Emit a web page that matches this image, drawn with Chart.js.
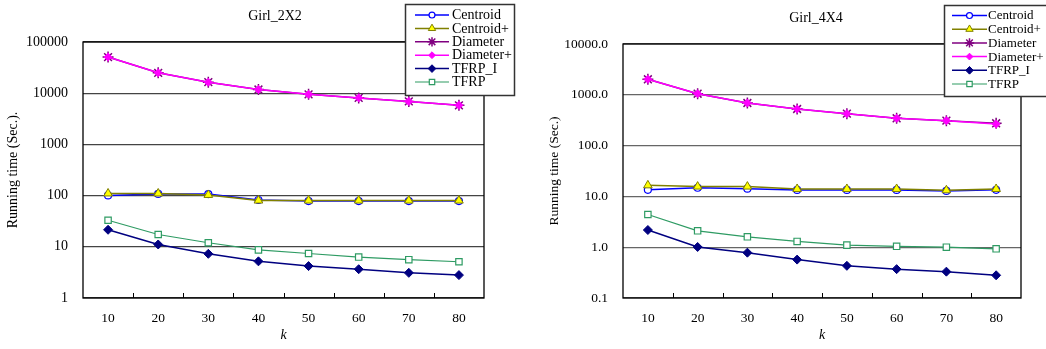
<!DOCTYPE html>
<html>
<head>
<meta charset="utf-8">
<script src="https://cdn.jsdelivr.net/npm/chart.js@4.4.1/dist/chart.umd.min.js"></script>
<style>
  body { margin: 0; background: #fff; }
  #wrap { position: relative; width: 1046px; height: 349px; overflow: hidden; }
  #left { position: absolute; left: 0; top: 0; }
  #right { position: absolute; left: 530px; top: 0; }
</style>
</head>
<body>
<div id="wrap">
  <canvas id="left" width="530" height="349"></canvas>
  <canvas id="right" width="516" height="349"></canvas>
</div>
<script>
// k values on the x axis
const categories = [10, 20, 30, 40, 50, 60, 70, 80];
const seriesNames = ['Centroid', 'Centroid+', 'Diameter', 'Diameter+', 'TFRP_I', 'TFRP'];

// Girl_2X2 running times (sec.)
const g2Centroid  = [101, 108, 107, 82, 78, 78, 78, 78];
const g2CentroidP = [110, 110, 103, 80, 80, 80, 80, 80];
const g2Diameter  = [50800, 25000, 16400, 11800, 9500, 8100, 6900, 5800];
const g2DiameterP = [50800, 25000, 16400, 11800, 9500, 8100, 6900, 5800];
const g2TfrpI     = [21.5, 11.1, 7.3, 5.2, 4.2, 3.65, 3.1, 2.8];
const g2Tfrp      = [33, 17.4, 12, 8.7, 7.4, 6.3, 5.6, 5.1];
const g2Ticks = [1, 10, 100, 1000, 10000, 100000];

// Girl_4X4 running times (sec.)
const g4Centroid  = [13.5, 14.8, 14.2, 13.4, 13.4, 13.4, 12.8, 13.5];
const g4CentroidP = [16.5, 15.6, 15.6, 14, 14, 14, 13.2, 14];
const g4Diameter  = [2020, 1050, 690, 525, 425, 345, 310, 275];
const g4DiameterP = [2020, 1050, 690, 525, 425, 345, 310, 265];
const g4TfrpI     = [2.18, 1.01, 0.78, 0.57, 0.43, 0.37, 0.33, 0.28];
const g4Tfrp      = [4.4, 2.1, 1.6, 1.3, 1.1, 1.04, 1.0, 0.93];
const g4Ticks = [0.1, 1, 10, 100, 1000, 10000];

const serif = "'Liberation Serif', 'Times New Roman', serif";

function makeDatasets(vals) {
    const styles = [
        { borderColor: '#0000ff', backgroundColor: '#ffffff', pointStyle: 'circle', pointRadius: 3.5, borderWidth: 1.5, pointBorderWidth: 1.2, order: 6 },
        { borderColor: '#808000', backgroundColor: '#ffff00', pointStyle: 'triangle', pointRadius: 5, borderWidth: 1.5, pointBorderWidth: 1, order: 5 },
        { borderColor: '#800080', backgroundColor: '#800080', pointStyle: 'star', pointRadius: 5.5, borderWidth: 1.5, pointBorderWidth: 1.5, order: 4 },
        { borderColor: '#ff00ff', backgroundColor: '#ff00ff', pointStyle: 'rectRot', pointRadius: 4, borderWidth: 1.5, pointBorderWidth: 1, order: 3 },
        { borderColor: '#000080', backgroundColor: '#000080', pointStyle: 'rectRot', pointRadius: 4.5, borderWidth: 1.5, pointBorderWidth: 1, order: 2 },
        { borderColor: '#2e9b63', backgroundColor: '#ffffff', pointStyle: 'rect', pointRadius: 4.5, borderWidth: 1.2, pointBorderWidth: 1.2, order: 1 }
    ];
    return vals.map(function (v, i) {
        const s = styles[i];
        return {
            label: seriesNames[i],
            data: v,
            borderColor: s.borderColor,
            backgroundColor: s.backgroundColor,
            pointBackgroundColor: s.backgroundColor,
            pointBorderColor: s.borderColor,
            pointStyle: s.pointStyle,
            pointRadius: s.pointRadius,
            pointBorderWidth: s.pointBorderWidth,
            borderWidth: s.borderWidth,
            order: s.order,
            tension: 0
        };
    });
}

// frame, inner x ticks, title and the boxed legend
const decorPlugin = {
    id: 'decor',
    afterDraw(chart, args, opts) {
        const ctx = chart.ctx;
        const a = chart.chartArea;
        const xs = chart.scales.x;
        ctx.save();

        // plot frame
        ctx.strokeStyle = '#000';
        ctx.lineWidth = 1.3;
        ctx.strokeRect(a.left, a.top, a.right - a.left, a.bottom - a.top);

        // inside tick marks between categories
        ctx.lineWidth = 1;
        for (let i = 1; i < categories.length; i++) {
            const x = Math.round((xs.getPixelForValue(i - 1) + xs.getPixelForValue(i)) / 2) + 0.5;
            ctx.beginPath();
            ctx.moveTo(x, a.bottom);
            ctx.lineTo(x, a.bottom - 5);
            ctx.stroke();
        }

        // chart title
        ctx.fillStyle = '#000';
        ctx.font = '14px ' + serif;
        ctx.textAlign = 'center';
        ctx.textBaseline = 'middle';
        ctx.fillText(opts.title, opts.titleX, opts.titleY);

        // legend box
        const L = opts.legend;
        ctx.fillStyle = '#fff';
        ctx.fillRect(L.x, L.y, L.w, L.h);
        ctx.strokeStyle = '#333';
        ctx.lineWidth = 1.5;
        ctx.strokeRect(L.x + 0.5, L.y + 0.5, L.w, L.h);

        ctx.font = L.font + 'px ' + serif;
        ctx.textAlign = 'left';
        chart.data.datasets.forEach(function (ds, i) {
            const y = L.rowY + i * L.rowH;
            ctx.strokeStyle = ds.borderColor;
            ctx.lineWidth = ds.borderWidth;
            ctx.beginPath();
            ctx.moveTo(L.lineX0, y);
            ctx.lineTo(L.lineX1, y);
            ctx.stroke();
            ctx.fillStyle = ds.pointBackgroundColor;
            ctx.strokeStyle = ds.pointBorderColor;
            ctx.lineWidth = ds.pointBorderWidth;
            Chart.helpers.drawPoint(ctx, {
                pointStyle: ds.pointStyle,
                rotation: 0,
                radius: ds.pointRadius * 0.85,
                borderWidth: ds.pointBorderWidth
            }, (L.lineX0 + L.lineX1) / 2, y);
            ctx.fillStyle = '#000';
            ctx.fillText(ds.label, L.textX, y + 0.5);
        });
        ctx.restore();
    }
};

function makeChart(id, cfg) {
    return new Chart(document.getElementById(id), {
        type: 'line',
        data: { labels: categories, datasets: makeDatasets(cfg.values) },
        options: {
            responsive: false,
            animation: false,
            layout: { padding: { top: cfg.top, right: cfg.right, left: 0, bottom: 0 } },
            plugins: {
                legend: { display: false },
                tooltip: { enabled: false },
                decor: { title: cfg.title, titleX: cfg.titleX, titleY: cfg.titleY, legend: cfg.legend }
            },
            scales: {
                x: {
                    type: 'category',
                    offset: true,
                    grid: { display: false, drawTicks: false },
                    border: { display: false },
                    ticks: { color: '#000', padding: 12, font: { family: serif, size: 13.5 } },
                    title: { display: true, text: 'k', color: '#000', padding: { top: 0, bottom: 5 },
                             font: { family: serif, size: 14, style: 'italic' } },
                    afterFit: function (s) { s.height = cfg.xHeight; }
                },
                y: {
                    type: 'logarithmic',
                    min: cfg.ticks[0],
                    max: cfg.ticks[cfg.ticks.length - 1],
                    grid: { color: cfg.gridColor, lineWidth: 1.2, drawTicks: false },
                    border: { display: false },
                    ticks: {
                        color: '#000',
                        padding: 15,
                        font: { family: serif, size: cfg.tickSize },
                        callback: cfg.fmt
                    },
                    afterBuildTicks: function (s) {
                        s.ticks = cfg.ticks.map(function (v) { return { value: v }; });
                    },
                    title: { display: true, text: cfg.yTitle, color: '#000', padding: { top: cfg.yTitlePad, bottom: 0 },
                             font: { family: serif, size: cfg.yTitleSize } },
                    afterFit: function (s) { s.width = cfg.yWidth; }
                }
            }
        },
        plugins: [decorPlugin]
    });
}

makeChart('left', {
    title: 'Girl_2X2', titleX: 275, titleY: 16,
    yTitle: 'Running time (Sec.).', yTitlePad: 5, yTitleSize: 14,
    values: [g2Centroid, g2CentroidP, g2Diameter, g2DiameterP, g2TfrpI, g2Tfrp],
    ticks: g2Ticks, tickSize: 14, gridColor: '#444',
    fmt: function (v) { return String(v); },
    top: 42, right: 46, yWidth: 83, xHeight: 51,
    legend: { x: 405, y: 4, w: 109, h: 91, rowY: 15, rowH: 13.4, lineX0: 415, lineX1: 449, textX: 452, font: 14 }
});

makeChart('right', {
    title: 'Girl_4X4', titleX: 286, titleY: 18,
    yTitle: 'Running time (Sec.)', yTitlePad: 16, yTitleSize: 13.5,
    values: [g4Centroid, g4CentroidP, g4Diameter, g4DiameterP, g4TfrpI, g4Tfrp],
    ticks: g4Ticks, tickSize: 13.5, gridColor: '#666',
    fmt: function (v) { return Number(v).toFixed(1); },
    top: 44, right: 25, yWidth: 93, xHeight: 51,
    legend: { x: 414, y: 5, w: 110, h: 91, rowY: 15.5, rowH: 13.7, lineX0: 422, lineX1: 457, textX: 458, font: 13 }
});
</script>
</body>
</html>
